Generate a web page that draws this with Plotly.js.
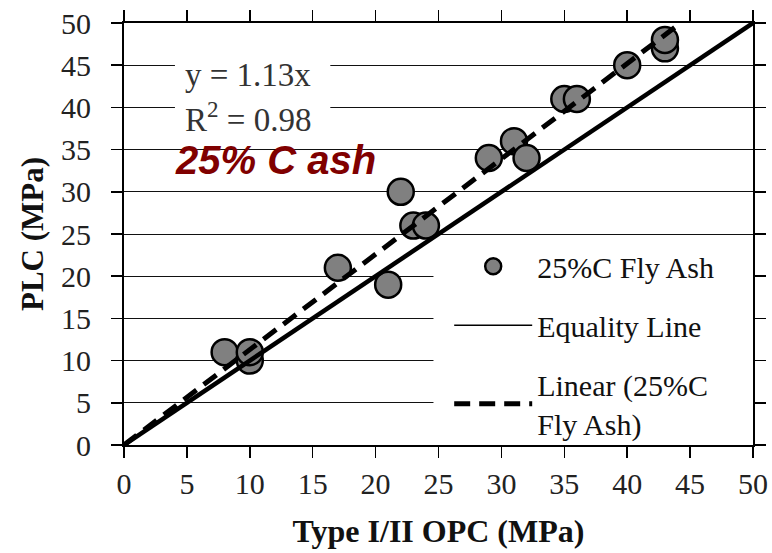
<!DOCTYPE html>
<html><head><meta charset="utf-8">
<script src="https://cdn.plot.ly/plotly-3.0.1.min.js"></script>
<style>html,body{margin:0;padding:0;background:#fff}#chart{width:772px;height:553px}</style>
</head><body><div id="chart"></div>
<script>
// Data
const opc = [8, 10, 10, 17, 21, 22, 23, 24, 29, 31, 32, 35, 36, 40, 43, 43];
const plc = [11, 10, 11, 21, 19, 30, 26, 26, 34, 36, 34, 41, 41, 45, 47, 48];
const equalityX = [0, 50];
const equalityY = [0, 50];
const slope = 1.13;
const trendX = [0, 50 / slope];
const trendY = trendX.map(v => v * slope);
const tickVals = [0, 5, 10, 15, 20, 25, 30, 35, 40, 45, 50];

const serif = 'Liberation Serif, Times New Roman, serif';

const traces = [
  {x: opc, y: plc, type: 'scatter', mode: 'markers', name: '25%C Fly Ash', legendgroup: 'a',
   marker: {size: 26, color: '#808080', line: {color: '#000', width: 2.5}}},
  {x: equalityX, y: equalityY, type: 'scatter', mode: 'lines', name: 'Equality Line', showlegend: false,
   line: {color: '#000', width: 4.5}, hoverinfo: 'skip'},
  {x: [null], y: [null], type: 'scatter', mode: 'lines', name: 'Equality Line', legendgroup: 'b',
   line: {color: '#000', width: 1.5}},
  {x: trendX, y: trendY, type: 'scatter', mode: 'lines', name: 'Linear (25%C<br>Fly Ash)', legendgroup: 'c',
   line: {color: '#000', width: 5, dash: '16px,9px'}}
];

const layout = {
  width: 772, height: 553,
  margin: {l: 124, r: 19, t: 23, b: 108},
  paper_bgcolor: '#fff', plot_bgcolor: '#fff',
  showlegend: true,
  legend: {x: 0.517, y: 0.485, xanchor: 'left', yanchor: 'top', bgcolor: 'rgba(0,0,0,0)', itemwidth: 78,
           font: {family: serif, size: 30, color: '#111'}, traceorder: 'grouped', tracegroupgap: 17},
  xaxis: {range: [0, 50], tickvals: tickVals, ticks: 'outside', ticklen: 11, tickwidth: 1.5, tickcolor: '#000',
          showline: true, linecolor: '#000', linewidth: 2, mirror: 'ticks', showgrid: false, zeroline: false,
          tickfont: {family: serif, size: 30, color: '#222'},
          title: {text: '<b>Type I/II OPC (MPa)</b>', font: {family: serif, size: 32, color: '#111'}, standoff: 21}},
  yaxis: {range: [0, 50], tickvals: tickVals, ticks: 'outside', ticklen: 11, tickwidth: 1.5, tickcolor: '#000',
          showline: true, linecolor: '#000', linewidth: 2, mirror: 'ticks', showgrid: true, gridcolor: '#111', gridwidth: 1,
          zeroline: false, ticklabelstandoff: 14,
          tickfont: {family: serif, size: 30, color: '#222'},
          title: {text: '<b>PLC (MPa)</b>', font: {family: serif, size: 31, color: '#111'}, standoff: 8}},
  shapes: [
    {type: 'rect', xref: 'x', yref: 'y', x0: 4.05, x1: 16.4, y0: 36.8, y1: 46.6, layer: 'between',
     fillcolor: '#fff', line: {width: 0}},
    {type: 'rect', xref: 'x', yref: 'y', x0: 24.6, x1: 50, y0: 0.3, y1: 24.2, layer: 'between',
     fillcolor: '#fff', line: {width: 0}}
  ],
  annotations: [
    {xref: 'paper', yref: 'paper', x: 0.094, y: 0.877, xanchor: 'left', yanchor: 'middle', showarrow: false,
     text: 'y = 1.13x', font: {family: serif, size: 33, color: '#333'}},
    {xref: 'paper', yref: 'paper', x: 0.094, y: 0.778, xanchor: 'left', yanchor: 'middle', showarrow: false,
     text: 'R<sup>2</sup> = 0.98', font: {family: serif, size: 33, color: '#333'}},
    {xref: 'paper', yref: 'paper', x: 0.078, y: 0.675, xanchor: 'left', yanchor: 'middle', showarrow: false,
     text: '<b><i>25% C ash</i></b>', font: {family: 'Liberation Sans, Arial, sans-serif', size: 40, color: '#800000'}}
  ]
};

Plotly.newPlot('chart', traces, layout, {displayModeBar: false, staticPlot: true});
</script>
</body></html>
